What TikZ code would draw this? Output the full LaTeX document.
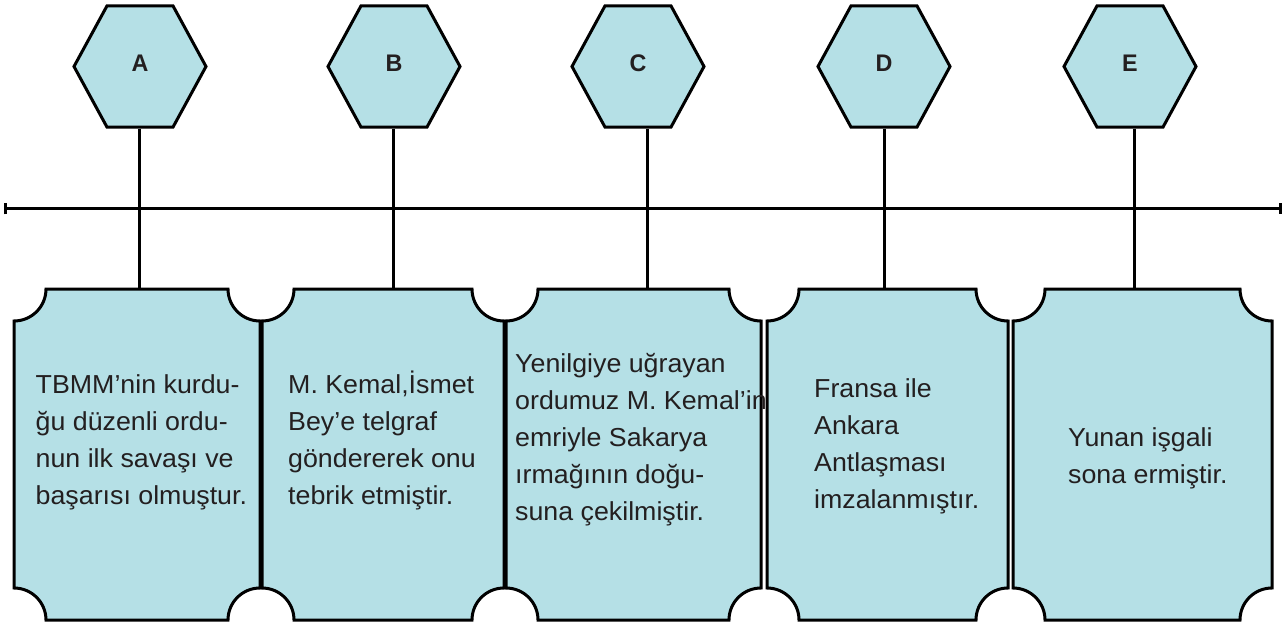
\documentclass[tikz,border=0pt]{standalone}
\usepackage{fontspec}
\setmainfont{Liberation Sans}[FakeStretch=1.03]
\usetikzlibrary{shapes.geometric,arrows.meta}
\definecolor{cardblue}{RGB}{181,224,230}
\definecolor{inkgray}{RGB}{35,31,32}
\tikzset{
  hexbox/.style={regular polygon, regular polygon sides=6, minimum size=140pt,
    xscale=0.943, transform shape, inner sep=0pt, draw=black, fill=cardblue,
    line width=3pt, text height=17.4pt, text depth=7pt,
    font=\bfseries\fontsize{24}{28}\selectfont, text=inkgray},
  cardbox/.style={draw=black, fill=cardblue, line width=3pt},
  cardtext/.style={anchor=base west, align=left, inner sep=0pt, text=inkgray,
    font=\fontsize{26}{37}\selectfont},
  link/.style={draw=black, line width=3pt},
}
% card with cut corners, #1 left edge, #2 right edge
\newcommand\ticket[2]{%
  \draw[cardbox] (#1+32,-289) -- (#2-32,-289) arc[start angle=180, end angle=270, radius=32]
    -- (#2,-588) arc[start angle=90, end angle=180, radius=32]
    -- (#1+32,-620) arc[start angle=0, end angle=90, radius=32]
    -- (#1,-321) arc[start angle=270, end angle=360, radius=32] -- cycle;}
\begin{document}
\begin{tikzpicture}[x=1pt, y=1pt]
    \useasboundingbox (0,0) rectangle (1287,-628);
    % cards
    \ticket{14}{260}
    \ticket{262}{504}
    \ticket{506}{761}
    \ticket{767}{1008}
    \ticket{1013}{1272}
    \coordinate (cardA) at (139,-289);
    \coordinate (cardB) at (393,-289);
    \coordinate (cardC) at (647,-289);
    \coordinate (cardD) at (884,-289);
    \coordinate (cardE) at (1134,-289);
    % hexagons
    \node[hexbox] (hexA) at (140,-66.5) {A};
    \node[hexbox] (hexB) at (394,-66.5) {B};
    \node[hexbox] (hexC) at (638,-66.5) {C};
    \node[hexbox] (hexD) at (884,-66.5) {D};
    \node[hexbox] (hexE) at (1130,-66.5) {E};
    % time line
    \coordinate (lineL) at (4,-209);
    \coordinate (lineR) at (1282,-209);
    \draw[link, {Bar[width=11pt]}-{Bar[width=11pt]}] (lineL) -- (lineR);
    \draw[link] (hexA.south -| cardA) -- (cardA);
    \draw[link] (hexB.south -| cardB) -- (cardB);
    \draw[link] (hexC.south -| cardC) -- (cardC);
    \draw[link] (hexD.south -| cardD) -- (cardD);
    \draw[link] (hexE.south -| cardE) -- (cardE);
    % texts
    \node[cardtext] (textA) at (35.5,-504) {TBMM’nin kurdu-\\ğu düzenli ordu-\\nun ilk savaşı ve\\başarısı olmuştur.};
    \node[cardtext] (textB) at (288,-504) {M. Kemal,İsmet\\Bey’e telgraf\\göndererek onu\\tebrik etmiştir.};
    \node[cardtext] (textC) at (515,-520) {Yenilgiye uğrayan\\ordumuz M. Kemal’in\\emriyle Sakarya\\ırmağının doğu-\\suna çekilmiştir.};
    \node[cardtext] (textD) at (814,-508.5) {Fransa ile\\Ankara\\Antlaşması\\imzalanmıştır.};
    \node[cardtext] (textE) at (1068,-483) {Yunan işgali\\sona ermiştir.};
  \end{tikzpicture}
\end{document}
